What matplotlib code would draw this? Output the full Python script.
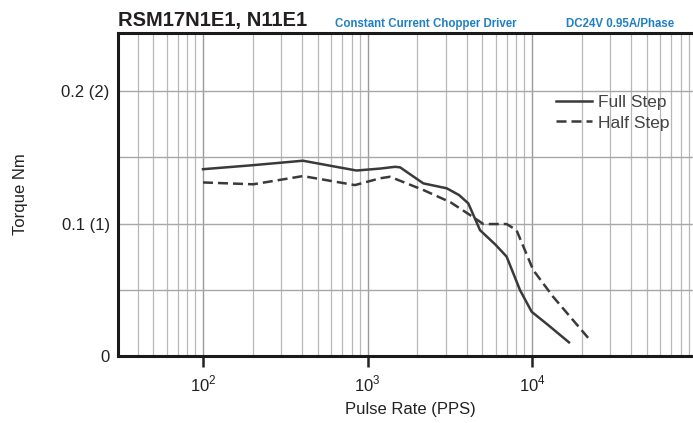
import numpy as np
from matplotlib import pyplot as plt
from matplotlib.ticker import LogLocator, FixedLocator, NullFormatter

# torque curves (pulse rate in PPS, torque in Nm)
full_step_pps = [100, 200, 405, 600, 858, 1200, 1470, 1578, 2184, 3027, 3600, 4100, 4830, 6000, 7010, 8450, 9950, 12500, 16780]
full_step_torque = [0.141, 0.144, 0.1474, 0.1435, 0.140, 0.1415, 0.1428, 0.1424, 0.1303, 0.1266, 0.1215, 0.1152, 0.095, 0.084, 0.075, 0.0498, 0.0334, 0.0235, 0.0103]

half_step_pps = [100, 202, 405, 839, 1190, 1370, 2184, 3200, 4200, 5060, 7010, 8050, 10170, 13420, 22500]
half_step_torque = [0.131, 0.1296, 0.1358, 0.129, 0.1341, 0.1353, 0.1253, 0.1160, 0.1064, 0.0996, 0.0996, 0.095, 0.0649, 0.0448, 0.0121]

y_ticks = [0, 0.1, 0.2]
y_tick_labels = ['0', '0.1 (1)', '0.2 (2)']
x_ticks = [1e2, 1e3, 1e4]
x_tick_labels = ['$10^2$', '$10^3$', '$10^4$']

plt.rcParams['font.family'] = ['Liberation Sans', 'DejaVu Sans']
plt.rcParams['mathtext.fontset'] = 'custom'
plt.rcParams['mathtext.rm'] = 'Liberation Sans'

W, H = 693, 423
fig = plt.figure(figsize=(W / 100, H / 100), dpi=100)

# axes placed in pixel coords; right spine runs off the picture like the reference
left_px, right_px, top_px, bottom_px = 118, 703, 33, 356
ax = fig.add_axes([left_px / W, 1 - bottom_px / H, (right_px - left_px) / W, (bottom_px - top_px) / H])

decade_px = 164.5
x_lo = 10 ** (2 - (203 - left_px) / decade_px)
x_hi = 10 ** (2 + (right_px - 203) / decade_px)
ax.set_xscale('log')
ax.set_xlim(x_lo, x_hi)
ax.set_ylim(0, 0.2438)

# grid
ax.xaxis.set_minor_locator(LogLocator(base=10, subs=np.arange(2, 10), numticks=20))
ax.xaxis.set_minor_formatter(NullFormatter())
ax.grid(which='major', axis='x', color='#9a9a9a', linewidth=1.0)
ax.grid(which='minor', axis='x', color='#b8b8b8', linewidth=0.9)
ax.yaxis.set_minor_locator(FixedLocator([0.05, 0.15]))
ax.grid(which='both', axis='y', color='#a8a8a8', linewidth=1.0)

ax.plot(full_step_pps, full_step_torque, color='#3a3a3a', linewidth=1.8, linestyle='-', label='Full Step')
ax.plot(half_step_pps, half_step_torque, color='#3a3a3a', linewidth=1.8, linestyle=(0, (4, 2)), label='Half Step')

ax.set_xticks(x_ticks)
ax.set_xticklabels(x_tick_labels, fontsize=12, color='#222222')
ax.set_yticks(y_ticks)
ax.set_yticklabels(y_tick_labels, fontsize=12, color='#222222')
ax.tick_params(axis='x', which='major', direction='out', length=8, width=1.8, color='#222222', pad=5)
ax.tick_params(axis='x', which='minor', length=0)
ax.tick_params(axis='y', which='both', length=0, pad=6)

for side in ['left', 'top', 'bottom']:
    ax.spines[side].set_linewidth(2.2)
    ax.spines[side].set_color('#1a1a1a')
ax.spines['right'].set_visible(False)

ax.set_xlabel('Pulse Rate (PPS)', fontsize=12, color='#222222', labelpad=5)
ax.set_ylabel('Torque Nm', fontsize=12, color='#222222', labelpad=24)

leg = ax.legend(loc='upper left', bbox_to_anchor=((556 - left_px) / (right_px - left_px), (356 - 95) / 323),
                frameon=False, fontsize=12.5, handlelength=2.1, handletextpad=0.3, labelspacing=0.3,
                borderaxespad=0, borderpad=0)
for txt in leg.get_texts():
    txt.set_color('#444444')

fig.text(118 / W, 1 - 26 / H, 'RSM17N1E1, N11E1', fontsize=14.5, fontweight='bold', color='#231f20')
fig.text(335 / W, 1 - 27 / H, 'Constant Current Chopper Driver', fontsize=8.3, fontweight='bold', color='#1f7fc4')
fig.text(566 / W, 1 - 27 / H, 'DC24V 0.95A/Phase', fontsize=8.3, fontweight='bold', color='#1f7fc4')

fig.savefig('out.png', dpi=100)
